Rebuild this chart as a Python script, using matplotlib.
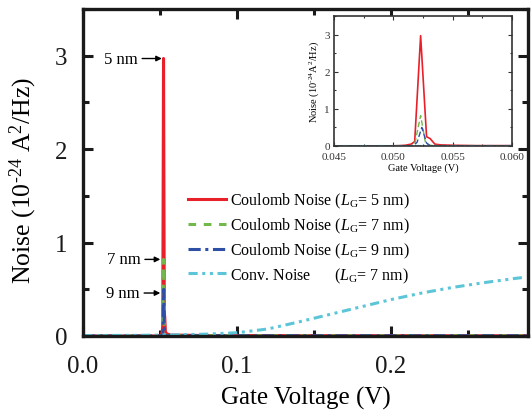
import matplotlib
matplotlib.use("Agg")
import matplotlib.pyplot as plt
from matplotlib.ticker import MultipleLocator, FormatStrFormatter

plt.rcParams['font.family'] = ['Liberation Serif', 'DejaVu Serif']
plt.rcParams['mathtext.fontset'] = 'custom'
plt.rcParams['mathtext.rm'] = 'Liberation Serif'
plt.rcParams['mathtext.it'] = 'Liberation Serif:italic'
plt.rcParams['mathtext.bf'] = 'Liberation Serif:bold'

# ---- data ----
v5 = [0.0, 0.010, 0.020, 0.030, 0.040, 0.045, 0.048, 0.050, 0.0505, 0.0510, 0.0515, 0.0518,
      0.0523, 0.0528, 0.0531, 0.0535, 0.0540, 0.0550, 0.0570, 0.0600, 0.080, 0.100, 0.150,
      0.200, 0.250, 0.290]
n5 = [0.0, 0.0, 0.0, 0.0, 0.0, 0.0, 0.0, 0.005, 0.01, 0.02, 0.05, 0.12,
      2.97, 0.25, 0.20, 0.05, 0.03, 0.02, 0.01, 0.01, 0.005, 0.005, 0.003,
      0.003, 0.002, 0.002]

v7 = [0.0, 0.010, 0.020, 0.030, 0.040, 0.045, 0.050, 0.0515, 0.0518, 0.0523, 0.0527,
      0.0530, 0.0540, 0.0600, 0.100, 0.150, 0.200, 0.250, 0.290]
n7 = [0.0, 0.0, 0.0, 0.0, 0.0, 0.0, 0.0, 0.01, 0.05, 0.82, 0.10,
      0.02, 0.005, 0.003, 0.003, 0.002, 0.002, 0.002, 0.002]

v9 = [0.0, 0.010, 0.020, 0.030, 0.040, 0.045, 0.050, 0.0517, 0.0520, 0.0524, 0.0528,
      0.0531, 0.0540, 0.0600, 0.100, 0.150, 0.200, 0.250, 0.290]
n9 = [0.0, 0.0, 0.0, 0.0, 0.0, 0.0, 0.0, 0.01, 0.10, 0.50, 0.08,
      0.01, 0.003, 0.002, 0.002, 0.002, 0.002, 0.002, 0.002]

vc = [0.0, 0.02, 0.04, 0.06, 0.08, 0.10, 0.12, 0.14, 0.16, 0.18, 0.20, 0.22, 0.24,
      0.26, 0.28, 0.285]
nc = [0.005, 0.006, 0.008, 0.012, 0.02, 0.035, 0.075, 0.15, 0.23, 0.31, 0.39, 0.46, 0.52,
      0.57, 0.615, 0.625]

labels = ["Coulomb Noise ($L_{\\mathrm{G}}$= 5 nm)",
          "Coulomb Noise ($L_{\\mathrm{G}}$= 7 nm)",
          "Coulomb Noise ($L_{\\mathrm{G}}$= 9 nm)",
          "Conv. Noise      ($L_{\\mathrm{G}}$= 7 nm)"]

red = '#e8202a'
green = '#72b84a'
blue = '#2e4fa6'
cyan = '#5cc6d8'

ls_green = (0, (2.5, 2.5))
ls_blue = (0, (4, 1.5, 1, 1.5))
ls_cyan = (0, (3, 1.5, 1, 1.5, 1, 1.5))

W, H = 531, 414
fig = plt.figure(figsize=(W / 100, H / 100), dpi=100)
ax = fig.add_axes([83 / W, 1 - 337 / H, (528 - 83) / W, (337 - 10) / H])

l1, = ax.plot(v5, n5, color=red, lw=2.2, ls='-')
l2, = ax.plot(v7, n7, color=green, lw=2.2, ls=ls_green)
l3, = ax.plot(v9, n9, color=blue, lw=2.2, ls=ls_blue)
l4, = ax.plot(vc, nc, color=cyan, lw=2.2, ls=ls_cyan)

ax.set_xlim(0, 0.289)
ax.set_ylim(0, 3.5)
ax.xaxis.set_major_locator(MultipleLocator(0.1))
ax.xaxis.set_minor_locator(MultipleLocator(0.05))
ax.yaxis.set_major_locator(MultipleLocator(1))
ax.yaxis.set_minor_locator(MultipleLocator(0.5))
ax.xaxis.set_major_formatter(FormatStrFormatter('%.1f'))
ax.tick_params(which='both', direction='in', top=True, right=True, width=2.2, labelsize=18,
               colors='#1a1a1a')
ax.tick_params(which='major', length=7)
ax.tick_params(which='minor', length=4)
ax.tick_params(axis='x', which='major', pad=14)
ax.tick_params(axis='y', which='major', pad=11)
for s in ax.spines.values():
    s.set_linewidth(2.4)
    s.set_color('#1a1a1a')
ax.set_xlabel('Gate Voltage (V)', fontsize=18, labelpad=6)
ax.set_ylabel('Noise (10$^{\\text{-24}}$ A$^{2}$/Hz)', fontsize=18.5)
ax.yaxis.set_label_coords((39 - 83) / 445, 0.48)

arrow = dict(arrowstyle='-|>', color='k', lw=1.0, mutation_scale=8, shrinkA=1, shrinkB=0)
ax.annotate('5 nm', xy=(0.0512, 2.97), xytext=(0.0357, 2.97), ha='right', va='center',
            fontsize=12, arrowprops=arrow)
ax.annotate('7 nm', xy=(0.0502, 0.82), xytext=(0.0375, 0.82), ha='right', va='center',
            fontsize=12, arrowprops=arrow)
ax.annotate('9 nm', xy=(0.0502, 0.46), xytext=(0.0370, 0.46), ha='right', va='center',
            fontsize=12, arrowprops=arrow)

ax.legend([l1, l2, l3, l4], labels, loc='upper left', frameon=False, fontsize=11.5,
          bbox_to_anchor=(188 / W, 1 - 192 / H), bbox_transform=fig.transFigure,
          handlelength=2.4, handletextpad=0.2, labelspacing=0.35, borderpad=0,
          borderaxespad=0)

# ---- inset ----
ins = fig.add_axes([334 / W, 1 - 147 / H, (512 - 334) / W, (147 - 17) / H])
ins.plot(v5, n5, color=red, lw=1.2, ls='-')
ins.plot(v7, n7, color=green, lw=1.0, ls=(0, (4, 2)))
ins.plot(v9, n9, color=blue, lw=1.0, ls=(0, (4, 2)))
ins.plot(vc, nc, color=cyan, lw=1.0, ls=(0, (5, 2, 1, 2, 1, 2)))
ins.set_xlim(0.045, 0.060)
ins.set_ylim(0, 3.5)
ins.xaxis.set_major_locator(MultipleLocator(0.005))
ins.xaxis.set_minor_locator(MultipleLocator(0.0025))
ins.xaxis.set_major_formatter(FormatStrFormatter('%.3f'))
ins.yaxis.set_major_locator(MultipleLocator(1))
ins.yaxis.set_minor_locator(MultipleLocator(0.5))
ins.tick_params(which='both', direction='in', top=True, right=True, width=0.8,
                labelsize=8, colors='#333333')
ins.tick_params(axis='x', which='major', pad=4)
ins.tick_params(axis='y', which='major', pad=3)
ins.tick_params(which='major', length=3)
ins.tick_params(which='minor', length=1.5)
for s in ins.spines.values():
    s.set_linewidth(1.2)
    s.set_color('#333333')
ins.set_xlabel('Gate Voltage (V)', fontsize=7.5, labelpad=1)
ins.set_ylabel('Noise (10$^{\\text{-24}}$A$^{2}$/Hz)', fontsize=7.5, labelpad=2)

fig.savefig('out.png', dpi=100)
